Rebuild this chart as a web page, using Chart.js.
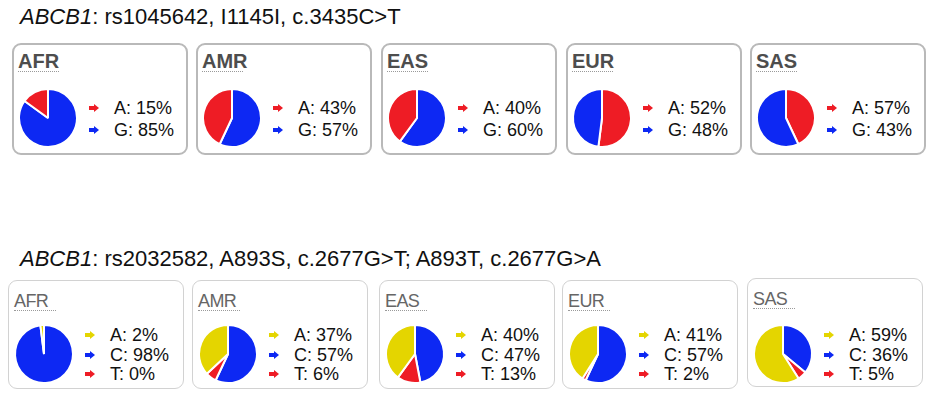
<!DOCTYPE html>
<html>
<head>
<meta charset="utf-8">
<script src="https://cdn.jsdelivr.net/npm/chart.js@4.4.1/dist/chart.umd.min.js"></script>
<style>
  body { margin: 0; background: #fff; font-family: "Liberation Sans", Arial, sans-serif; }
  #page { position: relative; width: 937px; height: 404px; overflow: hidden; }
  .title { position: absolute; left: 20px; font-size: 22px; line-height: 22px; color: #111; white-space: nowrap; }
  .box { position: absolute; width: 176px; box-sizing: border-box; border-radius: 9px; }
  .box.top { height: 112px; border: 2px solid #b9b9b9; }
  .box.bot { height: 109px; border: 1.5px solid #d2d2d2; }
  .pop { position: absolute; white-space: nowrap; }
  .pop.top { font-size: 20px; line-height: 20px; font-weight: bold; color: #4d4d4d; }
  .pop.bot { font-size: 18px; line-height: 18px; color: #666; letter-spacing: -0.6px; }
  .uline { position: absolute; height: 0; border-top: 1.5px dotted #9a9a9a; }
  .pie { position: absolute; }
  .row { position: absolute; font-size: 18px; line-height: 18px; color: #111; white-space: nowrap; }
  .arrow { position: absolute; width: 10px; height: 8px; }
  .arrow::before { content: ""; position: absolute; left: 0; top: 2px; width: 5px; height: 4px; background: currentColor; }
  .arrow::after { content: ""; position: absolute; left: 5px; top: 0; width: 0; height: 0;
    border-left: 5px solid currentColor; border-top: 4px solid transparent; border-bottom: 4px solid transparent; }
</style>
</head>
<body>
<div id="page"></div>
<script>
const populations = ['AFR', 'AMR', 'EAS', 'EUR', 'SAS'];

// rs1045642
const title1 = '<i>ABCB1</i>: rs1045642, I1145I, c.3435C&gt;T';
const alleles1 = ['A', 'G'];
const freqA1 = [15, 43, 40, 52, 57];
const freqG1 = [85, 57, 60, 48, 43];
// pie slices as drawn in the figure (the SAS pie does not follow its legend)
const pieRed1 = [15, 43, 40, 52, 43];
const pieBlue1 = [85, 57, 60, 48, 57];
const redFirst1 = [false, false, false, true, true];

// rs2032582
const title2 = '<i>ABCB1</i>: rs2032582, A893S, c.2677G&gt;T; A893T, c.2677G&gt;A';
const alleles2 = ['A', 'C', 'T'];
const freqA2 = [2, 37, 40, 41, 59];
const freqC2 = [98, 57, 47, 57, 36];
const freqT2 = [0, 6, 13, 2, 5];

const RED = '#ee1c25';
const BLUE = '#0d28f3';
const YELLOW = '#e4d500';

const page = document.getElementById('page');

function el(cls, css, html) {
  const d = document.createElement('div');
  d.className = cls;
  Object.assign(d.style, css);
  if (html !== undefined) d.innerHTML = html;
  page.appendChild(d);
  return d;
}

function pie(x, y, values, colors) {
  const c = document.createElement('canvas');
  c.className = 'pie';
  c.width = 62; c.height = 62;
  c.style.left = (x - 31) + 'px';
  c.style.top = (y - 31) + 'px';
  page.appendChild(c);
  new Chart(c.getContext('2d'), {
    type: 'pie',
    data: { datasets: [{ data: values, backgroundColor: colors, borderColor: '#fff', borderWidth: 2 }] },
    options: {
      responsive: false,
      animation: false,
      events: [],
      layout: { padding: 1 },
      plugins: { legend: { display: false }, tooltip: { enabled: false } }
    }
  });
}

el('title', { top: '6px' }, title1);
el('title', { top: '248px' }, title2);

const topLeft = [12, 196, 381, 566, 750];
const botLeft = [8, 192, 379, 562, 747];
const botTop = [280, 280, 280, 280, 278];

populations.forEach((p, i) => {
  // upper row
  let L = topLeft[i];
  el('box top', { left: L + 'px', top: '43px' });
  el('pop top', { left: (L + 6) + 'px', top: '51px' }, p);
  el('uline', { left: (L + 6) + 'px', top: '71px', width: '41px' });
  const vals1 = redFirst1[i] ? [pieRed1[i], pieBlue1[i]] : [pieBlue1[i], pieRed1[i]];
  const cols1 = redFirst1[i] ? [RED, BLUE] : [BLUE, RED];
  pie(L + 36, 118, vals1, cols1);
  const rows1 = [[alleles1[0], freqA1[i], RED], [alleles1[1], freqG1[i], BLUE]];
  rows1.forEach((r, k) => {
    const base = 114 + k * 22;
    el('arrow', { left: (L + 77) + 'px', top: (base - 10) + 'px', color: r[2] });
    el('row', { left: (L + 102) + 'px', top: (base - 15) + 'px' }, r[0] + ': ' + r[1] + '%');
  });

  // lower row
  L = botLeft[i];
  const T = botTop[i];
  el('box bot', { left: L + 'px', top: T + 'px' });
  el('pop bot', { left: (L + 6) + 'px', top: (T + 12) + 'px' }, p);
  el('uline', { left: (L + 6) + 'px', top: (T + 30) + 'px', width: '42px' });
  pie(L + 36, 354, [freqC2[i], freqT2[i], freqA2[i]], [BLUE, RED, YELLOW]);
  const rows2 = [[alleles2[0], freqA2[i], YELLOW], [alleles2[1], freqC2[i], BLUE], [alleles2[2], freqT2[i], RED]];
  rows2.forEach((r, k) => {
    const base = 341 + k * 19.5;
    el('arrow', { left: (L + 77) + 'px', top: (base - 10) + 'px', color: r[2] });
    el('row', { left: (L + 102) + 'px', top: (base - 15) + 'px' }, r[0] + ': ' + r[1] + '%');
  });
});
</script>
</body>
</html>
